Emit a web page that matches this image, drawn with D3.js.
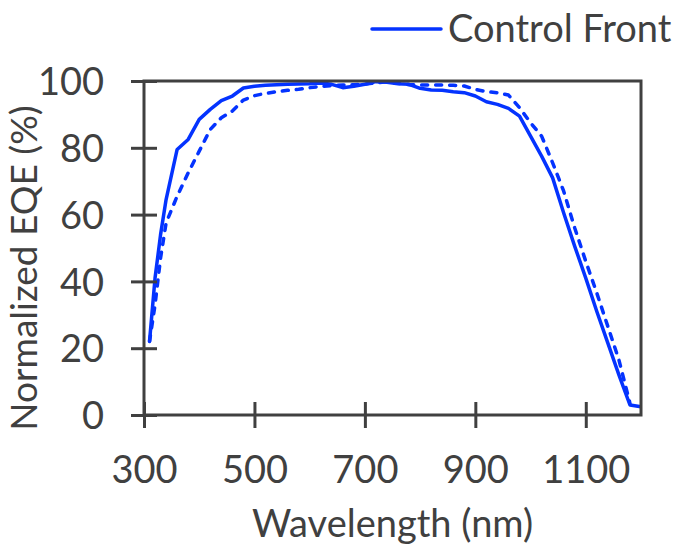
<!DOCTYPE html>
<html>
<head>
<meta charset="utf-8">
<script src="https://cdn.jsdelivr.net/npm/d3@7"></script>
<style>
  html, body { margin: 0; padding: 0; background: #fff; }
  svg { display: block; }
  text { font-family: Lato, "Open Sans", sans-serif; fill: #404040; }
</style>
</head>
<body>
<svg id="chart" width="684" height="549"></svg>
<script>
// ---- data ----
const wavelengths = [310,320,330,340,360,380,400,420,440,460,480,500,520,540,560,580,600,620,640,660,680,700,720,740,760,780,800,820,840,860,880,900,920,940,960,980,1000,1020,1040,1060,1080,1100,1120,1140,1160,1180,1200];
const controlFront = [22,41,54,64.5,79.5,82.5,88.5,91.5,94.1,95.5,97.9,98.4,98.7,98.9,99.0,99.1,99.2,99.4,99.0,98.0,98.4,99.0,99.8,99.6,99.2,99.0,97.8,97.3,97.2,96.8,96.5,95.5,93.8,93.0,91.8,89.5,83.5,77.5,71,60.5,50.5,41,31,21.5,12,3,2.5];
const controlBack = [22,33,47,57.5,65.5,72.5,79,85.5,89,91,94.3,95.6,96.3,96.8,97.2,97.5,98.0,98.4,98.6,98.8,98.9,99.1,99.4,99.8,99.3,98.9,98.8,98.8,98.8,98.7,98.5,97.5,96.8,96.5,95.8,92,87.5,83.5,75.5,67,56,46,36.5,26.5,16.5,3.5,null];
const xTicks = [300,500,700,900,1100];
const yTicks = [0,20,40,60,80,100];
const legendLabel = "Control Front";
const xTitle = "Wavelength (nm)";
const yTitle = "Normalized EQE (%)";

// ---- layout ----
const svg = d3.select("#chart");
const L = 144, R = 641, T = 81, B = 415;
const x = d3.scaleLinear().domain([300, 1200]).range([L, R]);
const y = d3.scaleLinear().domain([0, 100]).range([B, T]);
const axisColor = "#404040";
const blue = "#0433ff";
const fs = 38;

// lines
const mk = vals => wavelengths.map((w, i) => ({w, v: vals[i]})).filter(d => d.v != null);
const line = d3.line().x(d => x(d.w)).y(d => y(d.v));

svg.append("path").datum(mk(controlBack))
  .attr("d", line).attr("fill", "none").attr("stroke", blue)
  .attr("stroke-width", 3.5).attr("stroke-dasharray", "6,8")
  .attr("stroke-linecap", "round").attr("stroke-linejoin", "round");
svg.append("path").datum(mk(controlFront))
  .attr("d", line).attr("fill", "none").attr("stroke", blue)
  .attr("stroke-width", 3.5).attr("stroke-linejoin", "round");

// frame
svg.append("rect").attr("x", L).attr("y", T).attr("width", R - L).attr("height", B - T)
  .attr("fill", "none").attr("stroke", axisColor).attr("stroke-width", 3);

// x axis
const gx = svg.append("g").attr("transform", `translate(0,${B})`)
  .call(d3.axisBottom(x).tickValues(xTicks).tickSize(13).tickFormat(d3.format("d")));
gx.select(".domain").remove();
gx.selectAll(".tick line").attr("y1", -13).attr("y2", 13).attr("stroke", axisColor).attr("stroke-width", 3);
gx.selectAll(".tick text").attr("y", 68).attr("dy", null).attr("font-size", fs).attr("fill", axisColor);

// y axis
const gy = svg.append("g").attr("transform", `translate(${L},0)`)
  .call(d3.axisLeft(y).tickValues(yTicks).tickSize(13));
gy.select(".domain").remove();
gy.selectAll(".tick line").attr("x1", -13).attr("x2", 13).attr("stroke", axisColor).attr("stroke-width", 3);
gy.selectAll(".tick text").attr("x", -40).attr("dy", "0.36em").attr("font-size", fs).attr("fill", axisColor);
svg.selectAll(".tick text").style("font-family", "Lato, sans-serif");

// titles
svg.append("text").attr("x", (L + R) / 2).attr("y", 537).attr("text-anchor", "middle")
  .attr("font-size", fs).text(xTitle);
svg.append("text").attr("transform", `translate(37,268) rotate(-90)`).attr("text-anchor", "middle")
  .attr("font-size", 37).text(yTitle);

// legend
svg.append("line").attr("x1", 372).attr("x2", 441).attr("y1", 29).attr("y2", 29)
  .attr("stroke", blue).attr("stroke-width", 3.5).attr("stroke-linecap", "round");
svg.append("text").attr("x", 448).attr("y", 42).attr("font-size", fs).text(legendLabel);
</script>
</body>
</html>
